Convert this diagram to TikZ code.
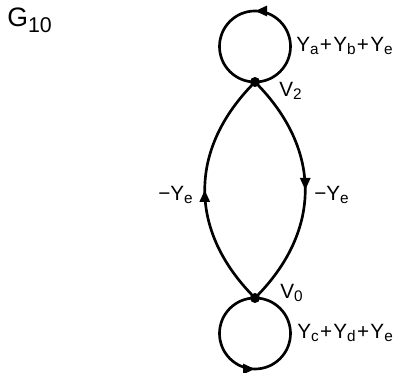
\documentclass[tikz,border=0pt]{standalone}
\usepackage{fontspec}
\setmainfont{Liberation Sans}
\usetikzlibrary{arrows.meta,decorations.markings}
\tikzset{
  vertex/.style={circle,fill=black,inner sep=0pt,minimum size=7.5pt},
  wire/.style={line width=2pt},
  midarrow/.style={postaction={decorate},decoration={markings,
    mark=at position #1 with {\arrow{Triangle[length=9pt,width=7.5pt]}}}},
  lab/.style={inner sep=0pt,font=\fontsize{15.5}{17}\selectfont},
}
\newcommand{\sub}[1]{\raisebox{-2.5pt}{\fontsize{11.5}{11.5}\selectfont #1}}
\newcommand{\pl}{\kern1pt+\kern1pt}
\begin{document}
\begin{tikzpicture}[x=0.75pt,y=0.75pt]
\useasboundingbox (0,0) rectangle (400,373);
\node[vertex] (v2) at (255,291) {};
\node[vertex] (v0) at (255,75) {};
% lens
\draw[wire,midarrow=0.5] (v0.center) .. controls (188,142) and (188,224) .. (v2.center);
\draw[wire,midarrow=0.5] (v2.center) .. controls (322,224) and (322,142) .. (v0.center);
% loops
\draw[wire,midarrow=0.5] (v2.center) arc[start angle=-90,end angle=270,radius=35.5];
\draw[wire,midarrow=0.5] (v0.center) arc[start angle=90,end angle=450,radius=35.5];
% labels
\node[lab,anchor=west] (la) at (296,327) {Y\sub{a}\pl Y\sub{b}\pl Y\sub{e}};
\node[lab,anchor=west] (lc) at (297,40) {Y\sub{c}\pl Y\sub{d}\pl Y\sub{e}};
\node[lab,anchor=north west] (l2) at (279,291) {V\sub{2}};
\node[lab,anchor=north west] (l0) at (280,89) {V\sub{0}};
\node[lab,anchor=east] (ll) at (193,178) {−Y\sub{e}};
\node[lab,anchor=west] (lr) at (314,178) {−Y\sub{e}};
\node[inner sep=0pt,anchor=north west] (g) at (7,365) {\fontsize{20}{20}\selectfont G\raisebox{-4pt}{\fontsize{16}{16}\selectfont 10}};
\end{tikzpicture}
\end{document}
